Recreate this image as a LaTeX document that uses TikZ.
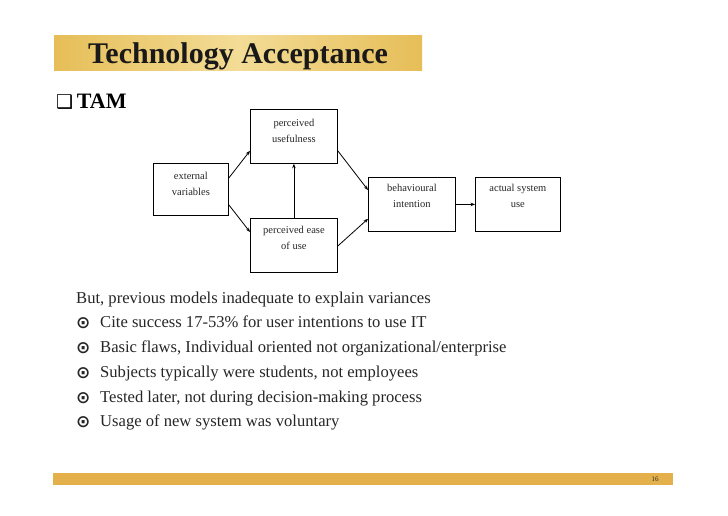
\documentclass[tikz,border=0pt]{standalone}
\usepackage{fontspec}
\setmainfont{Liberation Serif}
\newfontfamily\symfont{DejaVu Sans}
\usetikzlibrary{arrows.meta,calc}
\definecolor{barcol}{HTML}{E3B04B}
\definecolor{titlea}{HTML}{E6BE58}
\definecolor{titleb}{HTML}{F3DC96}
\tikzset{
  modelbox/.style={draw=black,line width=0.8pt,inner sep=0pt},
  boxtext/.style={font=\fontsize{10.5}{15.5}\selectfont,align=center,text=black!85},
  conn/.style={line width=0.8pt,-{Stealth[length=4.5pt,width=3.5pt]}},
  bodytext/.style={font=\fontsize{16.6}{18}\selectfont,anchor=base west,text=black!85,inner sep=0pt},
  bulletsym/.style={font=\symfont\bfseries\fontsize{17}{18}\selectfont,anchor=base west,inner sep=0pt,text=black!85}
}
\begin{document}
\begin{tikzpicture}[x=1pt,y=-1pt]
\useasboundingbox (0,0) rectangle (728,515);
\fill[white] (0,0) rectangle (728,515);
% title band
\shade[left color=titlea,right color=titlea,middle color=titleb] (54,35) rectangle (422,70);
\node[font=\bfseries\fontsize{30}{32}\selectfont,anchor=base west,inner sep=0pt,text=black!90] (title) at (88,63) {Technology Acceptance};
% TAM heading
\node[font=\bfseries\fontsize{22}{24}\selectfont,anchor=base west,inner sep=0pt] (tam) at (56,108) {{\symfont\fontsize{19}{20}\selectfont ❑}\,TAM};
% boxes
\node[modelbox,minimum width=87pt,minimum height=54pt,anchor=north west,
  label={[boxtext,anchor=north,yshift=-7pt]north:{perceived\\usefulness}}] (pu) at (250,109) {};
\node[modelbox,minimum width=75pt,minimum height=52pt,anchor=north west,
  label={[boxtext,anchor=north,yshift=-6pt]north:{external\\variables}}] (ev) at (153,163) {};
\node[modelbox,minimum width=87pt,minimum height=54pt,anchor=north west,
  label={[boxtext,anchor=north,yshift=-5pt]north:{perceived ease\\of use}}] (pe) at (250,218) {};
\node[modelbox,minimum width=87pt,minimum height=54pt,anchor=north west,
  label={[boxtext,anchor=north,yshift=-4pt]north:{behavioural\\intention}}] (bi) at (368,177) {};
\node[modelbox,minimum width=85pt,minimum height=54pt,anchor=north west,
  label={[boxtext,anchor=north,yshift=-4pt]north:{actual system\\use}}] (au) at (475,177) {};
% connectors
\draw[conn] ($(ev.north east)+(0,15)$) -- ($(pu.south west)+(0,-13)$);
\draw[conn] ($(ev.south east)+(0,-11)$) -- ($(pe.north west)+(0,14)$);
\draw[conn] (pe.north) -- (pu.south);
\draw[conn] ($(pu.south east)+(0,-13)$) -- ($(bi.north west)+(0,13)$);
\draw[conn] ($(pe.north east)+(0,28)$) -- ($(bi.south west)+(0,-13)$);
\draw[conn] (bi.east) -- (au.west);
% body text
\node[bodytext] (t0) at (76,303) {But, previous models inadequate to explain variances};
\node[bulletsym] (b1) at (76,328) {⊙};
\node[bodytext] (t1) at (100,327) {Cite success 17-53\% for user intentions to use IT};
\node[bulletsym] (b2) at (76,353) {⊙};
\node[bodytext] (t2) at (100,352) {Basic flaws, Individual oriented not organizational/enterprise};
\node[bulletsym] (b3) at (76,378) {⊙};
\node[bodytext] (t3) at (100,377) {Subjects typically were students, not employees};
\node[bulletsym] (b4) at (76,403) {⊙};
\node[bodytext] (t4) at (100,402) {Tested later, not during decision-making process};
\node[bulletsym] (b5) at (76,427) {⊙};
\node[bodytext] (t5) at (100,426) {Usage of new system was voluntary};
% footer
\fill[barcol] (53,473) rectangle (673,485);
\node[font=\fontsize{7}{8}\selectfont,text=black!80,inner sep=0pt] (pg) at (655,479) {16};
\end{tikzpicture}
\end{document}
